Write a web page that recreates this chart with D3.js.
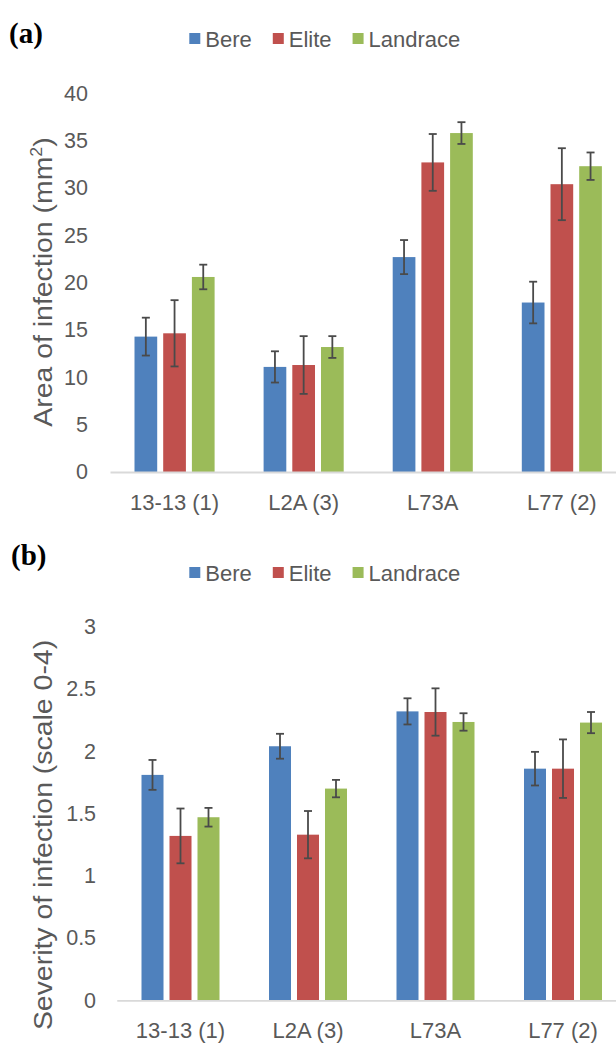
<!DOCTYPE html>
<html>
<head>
<meta charset="utf-8">
<script src="https://cdn.jsdelivr.net/npm/d3@7"></script>
<style>
  html, body { margin: 0; padding: 0; background: #fff; }
  svg { display: block; }
  .tick text, .lbl { fill: #595959; font-family: "Liberation Sans", Arial, sans-serif; }
</style>
</head>
<body>
<div id="chart"></div>
<script>
// Field trial results per isolate, three barley groups
const categories = ["13-13 (1)", "L2A (3)", "L73A", "L77 (2)"];
const seriesNames = ["Bere", "Elite", "Landrace"];
const seriesColors = ["#4F81BD", "#C0504D", "#9BBB59"];

// (a) Area of infection, mm² (mean and error)
const areaBere = [14.3, 11.1, 22.7, 17.9];
const areaBereErr = [2.0, 1.65, 1.8, 2.2];
const areaElite = [14.65, 11.3, 32.7, 30.4];
const areaEliteErr = [3.5, 3.05, 3.0, 3.8];
const areaLandrace = [20.6, 13.2, 35.8, 32.3];
const areaLandraceErr = [1.3, 1.15, 1.15, 1.45];
const areaTicks = [0, 5, 10, 15, 20, 25, 30, 35, 40];

// (b) Severity of infection, scale 0-4 (mean and error)
const sevBere = [1.81, 2.04, 2.32, 1.86];
const sevBereErr = [0.12, 0.10, 0.105, 0.135];
const sevElite = [1.32, 1.33, 2.315, 1.86];
const sevEliteErr = [0.22, 0.19, 0.19, 0.235];
const sevLandrace = [1.47, 1.70, 2.235, 2.23];
const sevLandraceErr = [0.075, 0.07, 0.07, 0.085];
const sevTicks = [0, 0.5, 1, 1.5, 2, 2.5, 3];

const W = 616, H = 1050;
const svg = d3.select("#chart").append("svg").attr("width", W).attr("height", H);

function drawPanel(cfg) {
  const g = svg.append("g");
  const x = d3.scaleBand().domain(categories).range([cfg.left, cfg.right]);
  const y = d3.scaleLinear().domain([0, cfg.max]).range([cfg.bottom, cfg.top]);
  const inner = d3.scaleBand().domain(seriesNames)
    .range([0, cfg.groupW]).paddingInner(cfg.barGap);
  const offset = (x.bandwidth() - cfg.groupW) / 2;

  // panel letter
  g.append("text").attr("x", cfg.letterX).attr("y", cfg.letterY)
    .attr("font-family", '"Liberation Serif", "Times New Roman", serif')
    .attr("font-weight", "bold").attr("font-size", 29).attr("fill", "#000")
    .text(cfg.letter);

  // legend
  const leg = g.append("g");
  let lx = cfg.legendX;
  seriesNames.forEach((s, i) => {
    leg.append("rect").attr("x", lx).attr("y", cfg.legendY - 13.5)
      .attr("width", 11).attr("height", 11).attr("fill", seriesColors[i]);
    const t = leg.append("text").attr("class", "lbl")
      .attr("x", lx + 16).attr("y", cfg.legendY)
      .attr("font-size", 22).text(s);
    lx += 16 + t.node().getComputedTextLength() + 21;
  });

  // y axis labels
  const yAxis = d3.axisLeft(y).tickValues(cfg.ticks).tickSize(0)
    .tickPadding(cfg.tickPad).tickFormat(d3.format("~g"));
  const ya = g.append("g").attr("transform", `translate(${cfg.left},0)`).call(yAxis);
  ya.select(".domain").remove();
  ya.selectAll("text").attr("font-size", 21.5).attr("fill", "#595959")
    .attr("font-family", '"Liberation Sans", Arial, sans-serif');

  // y axis title
  const yt = g.append("text").attr("class", "lbl")
    .attr("transform", `translate(${cfg.titleX},${cfg.titleY}) rotate(-90) scale(1.115,1)`)
    .attr("text-anchor", "middle").attr("font-size", 25.5);
  yt.append("tspan").text(cfg.title);
  if (cfg.sup) {
    yt.append("tspan").attr("font-size", 16).attr("dy", -10).text(cfg.sup);
    yt.append("tspan").attr("dy", 10).text(")");
  }

  // bars
  cfg.series.forEach((vals, si) => {
    const errs = cfg.errors[si];
    const name = seriesNames[si];
    const bx = c => x(c) + offset + inner(name);
    const bg = g.append("g");
    bg.selectAll("rect").data(categories).join("rect")
      .attr("x", c => bx(c))
      .attr("y", (c, i) => y(vals[i]))
      .attr("width", inner.bandwidth())
      .attr("height", (c, i) => y(0) - y(vals[i]))
      .attr("fill", seriesColors[si]);
  });

  // x axis
  const xAxis = d3.axisBottom(x).tickSize(0).tickSizeOuter(0).tickPadding(22);
  const xa = g.append("g").attr("transform", `translate(0,${cfg.bottom})`).call(xAxis);
  xa.select(".domain").attr("stroke", "#d9d9d9").attr("stroke-width", 1.8);
  xa.selectAll("text").attr("font-size", 22).attr("fill", "#595959")
    .attr("font-family", '"Liberation Sans", Arial, sans-serif');

  // error bars
  cfg.series.forEach((vals, si) => {
    const errs = cfg.errors[si];
    const name = seriesNames[si];
    const cx = c => x(c) + offset + inner(name) + inner.bandwidth() / 2;
    const eg = g.append("g").attr("stroke", "#4a4a4a").attr("stroke-width", 1.8);
    categories.forEach((c, i) => {
      const hi = y(vals[i] + errs[i]), lo = y(vals[i] - errs[i]);
      eg.append("line").attr("x1", cx(c)).attr("x2", cx(c)).attr("y1", hi).attr("y2", lo);
      eg.append("line").attr("x1", cx(c) - 4).attr("x2", cx(c) + 4).attr("y1", hi).attr("y2", hi);
      eg.append("line").attr("x1", cx(c) - 4).attr("x2", cx(c) + 4).attr("y1", lo).attr("y2", lo);
    });
  });
}

drawPanel({
  letter: "(a)", letterX: 9, letterY: 43,
  legendX: 189.3, legendY: 46.5,
  left: 110, right: 626.4, top: 93.3, bottom: 472, max: 40,
  ticks: areaTicks, tickPad: 22,
  groupW: 80.1, barGap: 0.209,
  title: "Area of infection (mm", sup: "2",
  titleX: 52, titleY: 282,
  series: [areaBere, areaElite, areaLandrace],
  errors: [areaBereErr, areaEliteErr, areaLandraceErr]
});

drawPanel({
  letter: "(b)", letterX: 11, letterY: 565,
  legendX: 189.3, legendY: 580.5,
  left: 116.75, right: 626.75, top: 626.7, bottom: 1000.3, max: 3,
  ticks: sevTicks, tickPad: 20.7,
  groupW: 78, barGap: 0.214,
  title: "Severity of infection (scale 0-4)", sup: null,
  titleX: 52, titleY: 835,
  series: [sevBere, sevElite, sevLandrace],
  errors: [sevBereErr, sevEliteErr, sevLandraceErr]
});
</script>
</body>
</html>
